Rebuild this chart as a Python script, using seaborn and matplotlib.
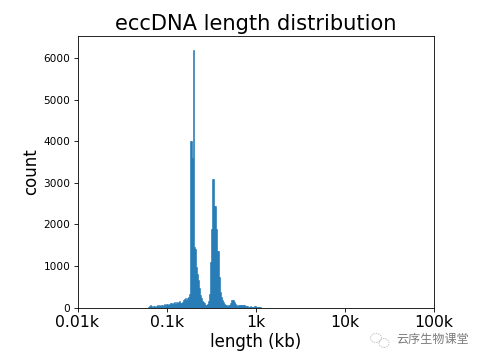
import numpy as np
import matplotlib
matplotlib.use("Agg")
import matplotlib.pyplot as plt
from matplotlib.patches import Ellipse
import seaborn as sns

# counts per log bin, starting around 0.06k
counts = [10, 40, 55, 30, 20, 45, 35, 15, 40, 55,
          30, 60, 40, 65, 70, 35, 75, 50, 80, 90,
          70, 85, 100, 110, 80, 115, 140, 90, 125, 100,
          135, 160, 120, 100, 140, 175, 200, 240, 190, 230,
          260, 320, 4000, 4000, 3600, 6200,
          1450, 1400, 970, 800, 650, 470,
          300, 230, 160, 130, 100, 65,
          70, 90, 160, 330, 1090, 1900,
          3100, 3100, 2450, 2450, 1900, 1370, 1370, 730, 370, 250,
          170, 130, 90, 70, 50, 45, 55, 65, 110, 170,
          185, 170, 130, 80, 50, 45, 50, 55, 50, 60,
          65, 65, 50, 35, 30, 25, 20, 20, 25, 20,
          15, 20, 25, 25, 15, 10, 10, 10, 5]
tick_pos = [0.01, 0.1, 1, 10, 100]
tick_labels = ["0.01k", "0.1k", "1k", "10k", "100k"]
y_ticks = [0, 1000, 2000, 3000, 4000, 5000, 6000]

# log10 bins, same as hist on the length in kb
edges = np.linspace(-2, 2, 357)
centres = (edges[:-1] + edges[1:]) / 2
lengths = 10 ** centres[70:70 + len(counts)]

fig = plt.figure(figsize=(4.83, 3.62), dpi=100)
ax = fig.add_axes([77.5 / 483, 1 - 307.5 / 362, 356.5 / 483, 271.5 / 362])

sns.histplot(x=lengths, weights=counts, bins=edges.tolist(), log_scale=True, ax=ax,
             color="#1f77b4", alpha=1, linewidth=0.4, edgecolor="#1f77b4", element="bars")

ax.set_xlim(0.01, 100)
ax.set_ylim(0, 6530)
ax.set_xticks(tick_pos)
ax.set_xticklabels(tick_labels, fontsize=11.3)
ax.minorticks_off()
ax.set_yticks(y_ticks)
ax.tick_params(axis="y", labelsize=7.6, length=2.6, width=0.6, pad=2.6)
ax.tick_params(axis="x", length=2.6, width=0.6, pad=2.6)
for s in ax.spines.values():
    s.set_linewidth(0.6)

ax.set_title("eccDNA length distribution", fontsize=15.1, pad=4.5)
ax.set_xlabel("length (kb)", fontsize=12, labelpad=2.6)
ax.set_ylabel("count", fontsize=12, labelpad=2.2)

# watermark
fig.text(396 / 483, 1 - 339 / 362, "云序生物课堂", fontsize=8.7, color="#7a7a7a",
         family=["Noto Sans CJK SC", "DejaVu Sans"], va="center", ha="left")
fig.add_artist(Ellipse((376 / 483, 1 - 338 / 362), 11 / 483, 9 / 362, fill=False,
                       ec="#c4c4c4", lw=0.7, ls=(0, (1.5, 1)), transform=fig.transFigure))
fig.add_artist(Ellipse((384 / 483, 1 - 343 / 362), 10 / 483, 9 / 362, fill=False,
                       ec="#c4c4c4", lw=0.7, ls=(0, (1.5, 1)), transform=fig.transFigure))

fig.savefig("out.png", dpi=100)
